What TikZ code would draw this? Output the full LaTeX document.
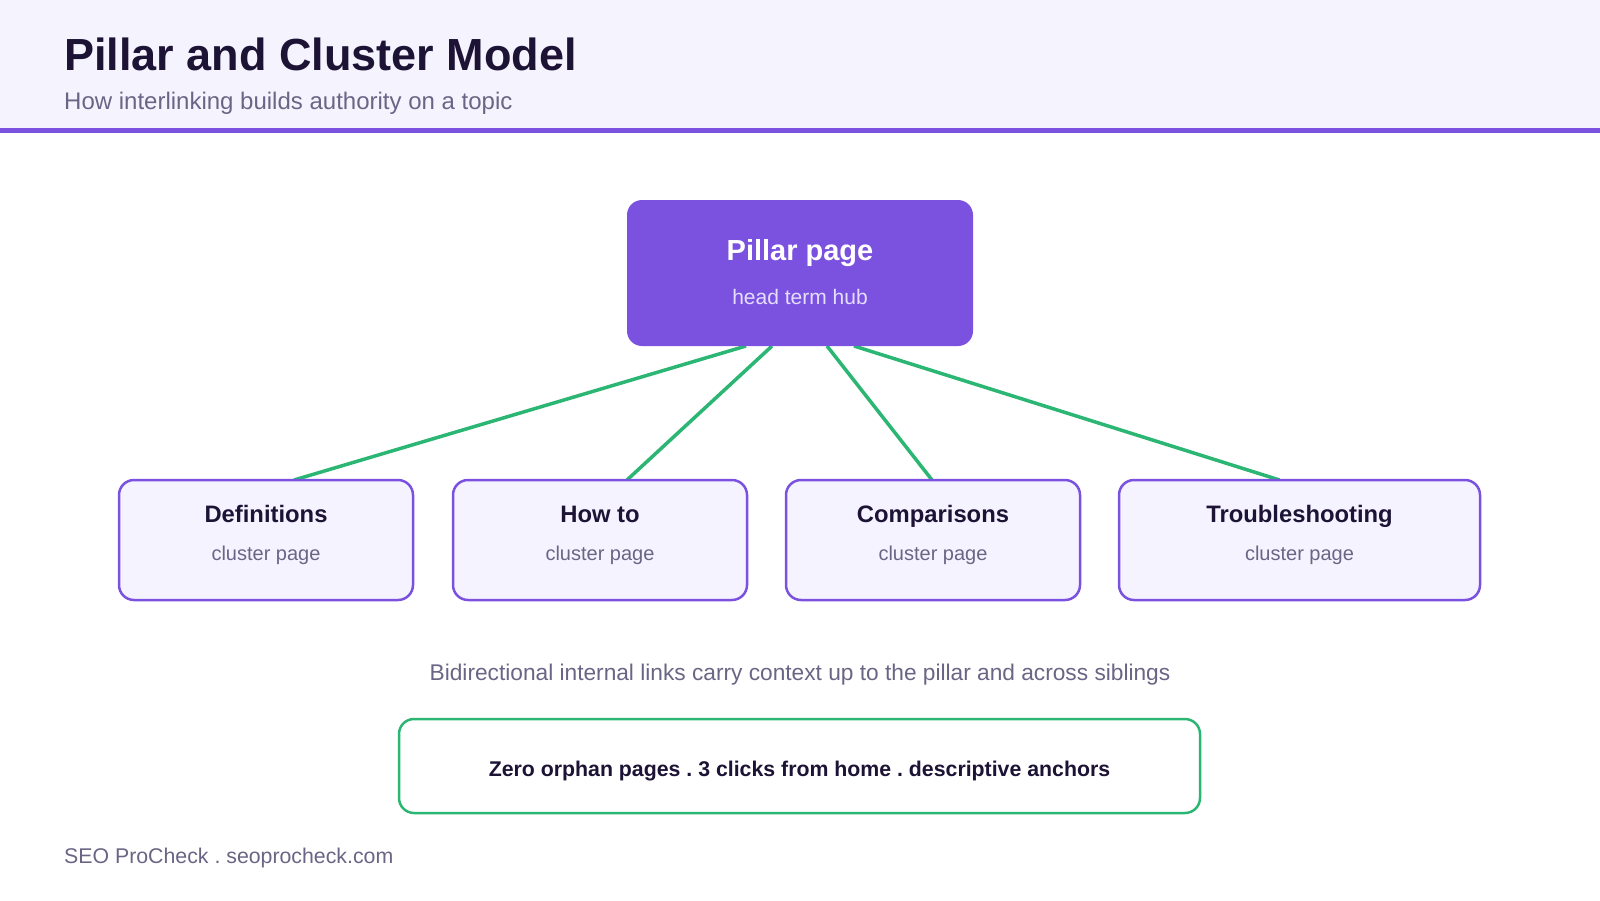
\documentclass[tikz,border=0pt]{standalone}
\usepackage{fontspec}
\setmainfont{Liberation Sans}
\usetikzlibrary{positioning, calc, backgrounds}
\definecolor{PCMpurple}{HTML}{7B52E0}
\definecolor{PCMgreen}{HTML}{2BB673}
\definecolor{PCMink}{HTML}{1C1335}
\definecolor{PCMgray}{HTML}{6B6585}
\definecolor{PCMheader}{HTML}{F5F3FE}
\definecolor{PCMlilac}{HTML}{F5F3FF}
\definecolor{PCMhubtext}{HTML}{E6DEFF}
\newcommand{\pcmfont}[1]{\fontsize{#1}{#1}\selectfont}
\frenchspacing

\begin{document}
\begin{tikzpicture}[x=1pt, y=-1pt,
    pillarbox/.style={fill=PCMpurple, rounded corners=15pt, minimum width=346pt,
                      minimum height=146pt, inner sep=0pt, outer sep=0pt},
    clusterbox/.style={draw=PCMpurple, line width=2.5pt, rounded corners=15pt,
                       fill=PCMlilac, minimum height=120pt, inner sep=0pt, outer sep=0pt},
    notebox/.style={draw=PCMgreen, line width=2.5pt, rounded corners=15pt,
                    fill=white, minimum width=801pt, minimum height=94pt, inner sep=0pt},
    ctitle/.style={font=\bfseries\pcmfont{23.8}, text=PCMink, anchor=base, inner sep=0pt},
    csub/.style={font=\pcmfont{20}, text=PCMgray, anchor=base, inner sep=0pt},
    plain/.style={anchor=base west, inner sep=0pt},
    link/.style={draw=PCMgreen, line width=3.5pt},
]

% --- Canvas and header band (kept on the background layer, under the links) ---
\begin{scope}[on background layer]
    \fill[white] (0,0) rectangle (1600,900);
    \fill[PCMheader] (0,0) rectangle (1600,128);
    \fill[PCMpurple] (0,128) rectangle (1600,133);
\end{scope}
\useasboundingbox (0,0) rectangle (1600,900);

\node[plain, font=\bfseries\pcmfont{45}, text=PCMink] (title) at (64,70) {Pillar and Cluster Model};
\node[plain, font=\pcmfont{24}, text=PCMgray] (subtitle) at (64,109) {How interlinking builds authority on a topic};

% --- Pillar page (centered at x = 800) ---
\node[pillarbox] (pillar) at (800,273) {};
\node[font=\bfseries\pcmfont{29}, text=white, anchor=base, inner sep=0pt]
    (pillar-title) at ([yshift=13pt]pillar.center) {Pillar page};
\node[font=\pcmfont{21}, text=PCMhubtext, anchor=base, inner sep=0pt]
    (pillar-sub) at ([yshift=-31pt]pillar.center) {head term hub};

% --- Cluster pages: one row, tops at y = 480 ---
\foreach \nm/\cx/\bw/\ttl in {cdef/266/294/Definitions, chow/600/294/How to,
                              ccomp/933/294/Comparisons, ctrbl/1299.5/361/Troubleshooting} {
    \node[clusterbox, minimum width=\bw pt] (\nm) at (\cx,540) {};
    \node[ctitle] (\nm-title) at ([yshift=18pt]\nm.center) {\ttl};
    \node[csub] (\nm-sub) at ([yshift=-20pt]\nm.center) {cluster page};
}

% --- Links from the pillar down to each cluster (behind the boxes) ---
\begin{scope}[on background layer]
    \foreach \nm/\px/\cx in {cdef/-54/28, chow/-28/27, ccomp/27/-1, ctrbl/54/-20} {
        \draw[link] ([xshift=\px pt]pillar.south) -- ([xshift=\cx pt]\nm.north);
    }
\end{scope}

% --- Caption and summary box ---
\node[font=\pcmfont{22.7}, text=PCMgray, anchor=base, inner sep=0pt] (caption) at (800,680)
    {Bidirectional internal links carry context up to the pillar and across siblings};
\node[notebox] (summary) at (799.5,766) {};
\node[font=\bfseries\pcmfont{21.3}, text=PCMink, anchor=base, inner sep=0pt]
    (summary-text) at ([yshift=-10pt]summary.center)
    {Zero orphan pages . 3 clicks from home . descriptive anchors};

% --- Footer ---
\node[plain, font=\pcmfont{21.3}, text=PCMgray] (footer) at (64,863) {SEO ProCheck . seoprocheck.com};

\end{tikzpicture}
\end{document}
